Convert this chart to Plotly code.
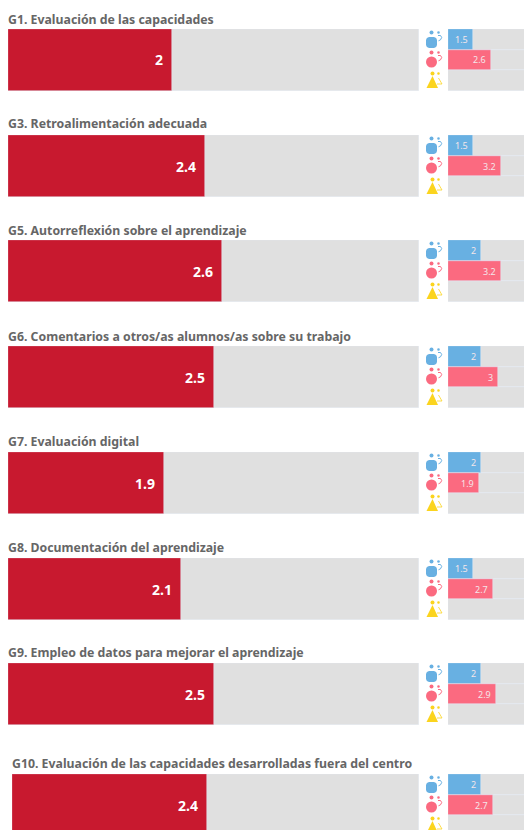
import plotly.graph_objects as go

# ---- data ----
titles = [
    "G1. Evaluación de las capacidades",
    "G3. Retroalimentación adecuada",
    "G5. Autorreflexión sobre el aprendizaje",
    "G6. Comentarios a otros/as alumnos/as sobre su trabajo",
    "G7. Evaluación digital",
    "G8. Documentación del aprendizaje",
    "G9. Empleo de datos para mejorar el aprendizaje",
    "G10. Evaluación de las capacidades desarrolladas fuera del centro",
]
overall = [2, 2.4, 2.6, 2.5, 1.9, 2.1, 2.5, 2.4]
group_a = [1.5, 1.5, 2, 2, 2, 1.5, 2, 2]
group_b = [2.6, 3.2, 3.2, 3, 1.9, 2.7, 2.9, 2.7]
group_c = [None] * 8
scale_max = [5]

# ---- layout constants ----
W, H = 524, 830
row_top = [29, 135, 240, 346, 452, 558, 663, 774]
row_h = 62
main_left = [8, 8, 8, 8, 8, 8, 8, 12]
main_right = 419
side_left = 448
side_unit = 16.5
title_y = [19, 124, 230, 336, 441, 547, 652, 763]
RED, GREY, BLUE, PINK, YELLOW = "#c8192f", "#e0e0e0", "#68b0e2", "#fb6a80", "#fbd41e"
FONT = "Noto Sans"


def px(x):
    return x / W


def py(y):
    return 1 - y / H


fig = go.Figure()
annotations, shapes = [], []


def circle(cx, cy, r, color):
    return dict(type="circle", xref="paper", yref="paper", layer="above",
                x0=px(cx - r), x1=px(cx + r), y0=py(cy + r), y1=py(cy - r),
                fillcolor=color, line=dict(color=color, width=0))


def path(points, color, width=0, fill=True):
    d = "M" + " L".join(f"{px(x):.5f},{py(y):.5f}" for x, y in points)
    if fill:
        d += " Z"
    return dict(type="path", xref="paper", yref="paper", layer="above", path=d,
                fillcolor=color if fill else "rgba(0,0,0,0)",
                line=dict(color=color, width=width))


def rounded(x0, y0, x1, y1, c, color):
    pts = [(x0 + c, y0), (x1 - c, y0), (x1 - 0.3 * c, y0 + 0.3 * c), (x1, y0 + c),
           (x1, y1 - c), (x1 - 0.3 * c, y1 - 0.3 * c), (x1 - c, y1),
           (x0 + c, y1), (x0 + 0.3 * c, y1 - 0.3 * c), (x0, y1 - c),
           (x0, y0 + c), (x0 + 0.3 * c, y0 + 0.3 * c)]
    return path(pts, color)


def arc(cx, cy, color):
    return path([(cx - 1.5, cy - 2.5), (cx + 1, cy - 2.5), (cx + 2.2, cy - 0.5),
                 (cx + 1, cy + 1.8), (cx - 1, cy + 2.8)], color, width=1, fill=False)


for i in range(len(titles)):
    top = row_top[i]
    bottom = min(top + row_h, H)
    n = i + 1
    mx, my = f"x{2*n-1}", f"y{2*n-1}"
    sx, sy = f"x{2*n}", f"y{2*n}"
    shown = (bottom - top) / row_h

    # main panel
    fig.add_trace(go.Bar(x=scale_max, y=[0], orientation="h", width=1, marker_color=GREY,
                         xaxis=mx, yaxis=my, showlegend=False, hoverinfo="skip"))
    fig.add_trace(go.Bar(x=[overall[i]], y=[0], orientation="h", width=1, marker_color=RED,
                         xaxis=mx, yaxis=my, showlegend=False))
    # side panel
    fig.add_trace(go.Bar(x=scale_max * 3, y=[0, 1, 2], orientation="h", width=1, marker_color=GREY,
                         xaxis=sx, yaxis=sy, showlegend=False, hoverinfo="skip"))
    for j, (vals, col) in enumerate([(group_a, BLUE), (group_b, PINK), (group_c, YELLOW)]):
        fig.add_trace(go.Bar(x=[vals[i]], y=[j], orientation="h", width=1, marker_color=col,
                             xaxis=sx, yaxis=sy, showlegend=False))
        if vals[i] is not None:
            annotations.append(dict(x=vals[i], y=j, xref=sx, yref=sy, text=str(vals[i]),
                                    xanchor="right", xshift=-3, showarrow=False,
                                    font=dict(family=FONT, size=9, color="#f4e6ea")))

    axis_common = dict(showgrid=False, zeroline=False, showticklabels=False, ticks="", fixedrange=True)
    dom_y = [py(bottom), py(top)]
    fig.layout[f"xaxis{2*n-1}"] = dict(domain=[px(main_left[i]), px(main_right)], range=[0, 5],
                                       anchor=my, **axis_common)
    fig.layout[f"yaxis{2*n-1}"] = dict(domain=dom_y, range=[-0.5 + 1 - shown, 0.5], autorange=False,
                                       anchor=mx, **axis_common)
    fig.layout[f"xaxis{2*n}"] = dict(domain=[px(side_left), 1], range=[0, (W - side_left) / side_unit],
                                     anchor=sy, **axis_common)
    fig.layout[f"yaxis{2*n}"] = dict(domain=dom_y, range=[-0.5 + 3 * shown, -0.5], autorange=False,
                                     anchor=sx, **axis_common)

    annotations.append(dict(x=overall[i], y=0, xref=mx, yref=my, text=f"<b>{overall[i]}</b>",
                            xanchor="right", xshift=-7, showarrow=False,
                            font=dict(family=FONT, size=14, color="white")))
    annotations.append(dict(x=px(main_left[i]), y=py(title_y[i]), xref="paper", yref="paper",
                            text=f"<b>{titles[i]}</b>", xanchor="left", yanchor="middle", showarrow=False,
                            xshift=-2, font=dict(family=FONT, size=12.3, color="#666666")))

    # icons
    shapes += [circle(431.5, top + 3.5, 2, BLUE), circle(438.5, top + 3.5, 1.3, BLUE),
               arc(439.5, top + 9, BLUE), rounded(426, top + 8, 437, top + 19, 3, BLUE),
               circle(431.5, top + 23.5, 2, PINK), circle(438.5, top + 23.5, 1.3, PINK),
               arc(439.5, top + 29, PINK), circle(431.5, top + 33, 5.5, PINK)]
    if top + 44 < H:
        shapes += [circle(432.5, top + 44.5, 2, YELLOW), circle(438.5, top + 44.5, 1.3, YELLOW),
                   path([(432.5, top + 47), (438, top + 59), (426.5, top + 59)], YELLOW),
                   path([(438.5, top + 49), (442, top + 55), (437, top + 55)], YELLOW, width=0.8, fill=False)]

fig.update_layout(width=W, height=H, margin=dict(l=0, r=0, t=0, b=0), autosize=False,
                  barmode="overlay", bargap=0, paper_bgcolor="white", plot_bgcolor="white",
                  font=dict(family=FONT), showlegend=False,
                  annotations=annotations, shapes=shapes)
fig.write_html("out.html", config=dict(displayModeBar=False),
               post_script="document.body.style.margin='0';document.body.style.overflow='hidden';")
